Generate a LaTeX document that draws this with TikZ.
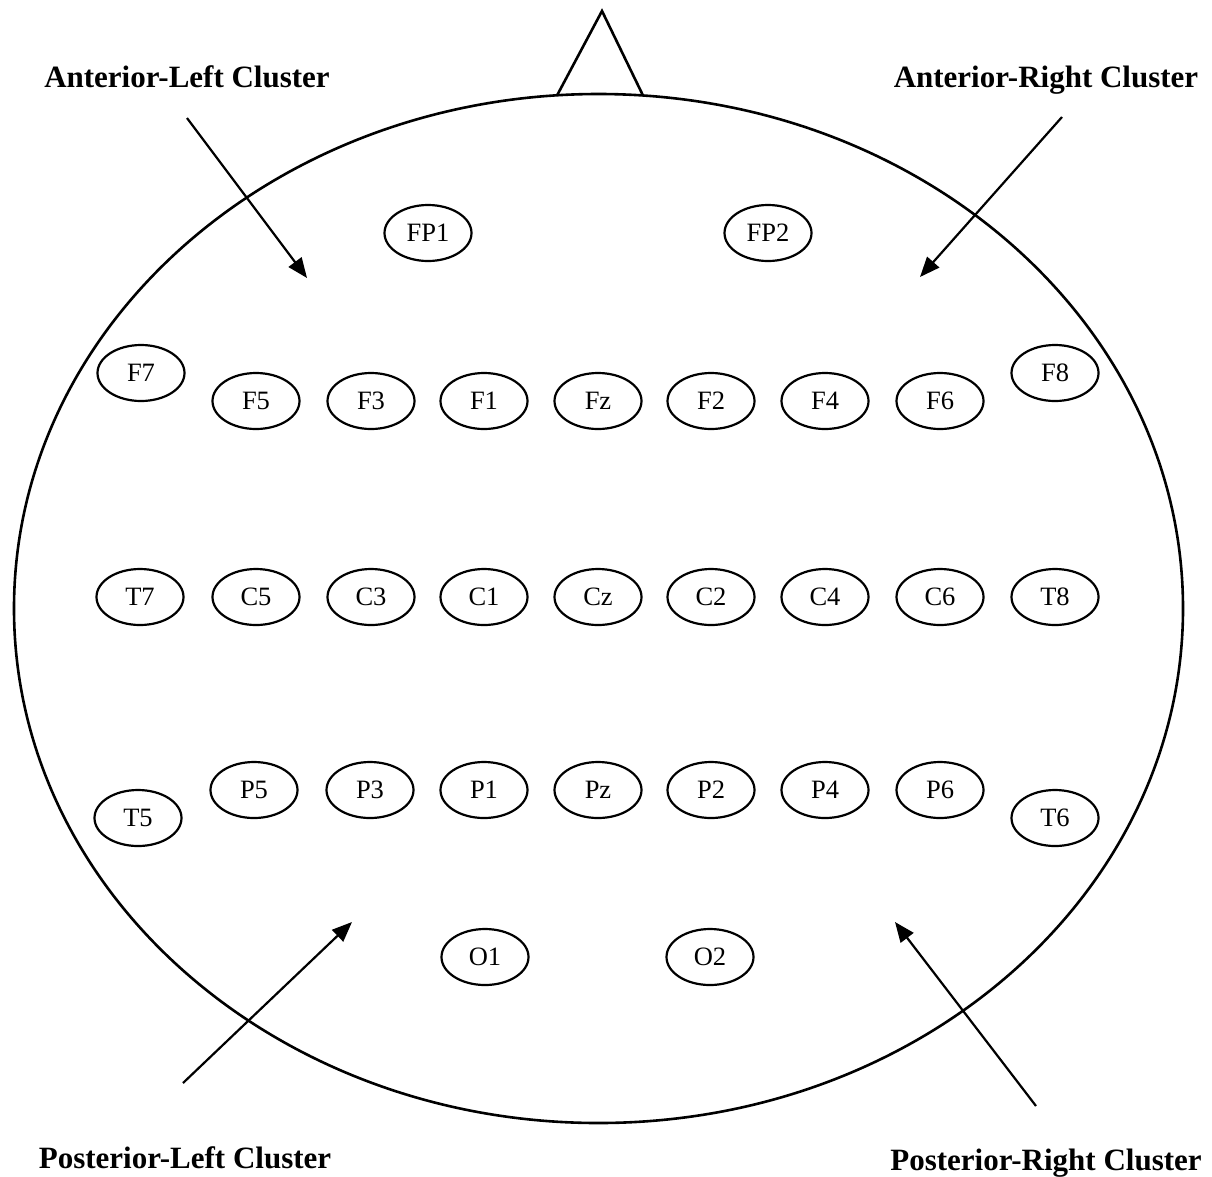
\documentclass[tikz,border=0pt]{standalone}
\usepackage{fontspec}
\setmainfont{Liberation Serif}
\usetikzlibrary{shapes.geometric,arrows.meta}
\begin{document}
\begin{tikzpicture}[x=1pt,y=-1pt,
  electrode/.style={draw, line width=2.2pt, ellipse, inner sep=0pt,
    minimum width=87pt, minimum height=56pt, font=\fontsize{26.5}{28}\selectfont},
  clusterlabel/.style={font=\fontsize{31}{34}\selectfont\bfseries, inner sep=0pt, anchor=base},
  pointer/.style={line width=2.2pt, -{Triangle[length=20pt,width=16pt]}},
  headline/.style={line width=2.6pt}]
\useasboundingbox (0,0) rectangle (1212,1176);
% head and nose
\draw[headline] (598.5,608.5) ellipse [x radius=584.5, y radius=514.5];
\draw[headline, line join=miter] (557,95.5) -- (602,11) -- (643,95.5);
% electrodes
\node[electrode] (FP1) at (428,233) {FP1};
\node[electrode] (FP2) at (768,233) {FP2};
\node[electrode] (F7) at (141,373) {F7};
\node[electrode] (F8) at (1055,373) {F8};
\node[electrode] (F5) at (256,401) {F5};
\node[electrode] (F3) at (371,401) {F3};
\node[electrode] (F1) at (484,401) {F1};
\node[electrode] (Fz) at (598,401) {Fz};
\node[electrode] (F2) at (711,401) {F2};
\node[electrode] (F4) at (825,401) {F4};
\node[electrode] (F6) at (940,401) {F6};
\node[electrode] (T7) at (140,597) {T7};
\node[electrode] (C5) at (256,597) {C5};
\node[electrode] (C3) at (371,597) {C3};
\node[electrode] (C1) at (484,597) {C1};
\node[electrode] (Cz) at (598,597) {Cz};
\node[electrode] (C2) at (711,597) {C2};
\node[electrode] (C4) at (825,597) {C4};
\node[electrode] (C6) at (940,597) {C6};
\node[electrode] (T8) at (1055,597) {T8};
\node[electrode] (P5) at (254,790) {P5};
\node[electrode] (P3) at (370,790) {P3};
\node[electrode] (P1) at (484,790) {P1};
\node[electrode] (Pz) at (598,790) {Pz};
\node[electrode] (P2) at (711,790) {P2};
\node[electrode] (P4) at (825,790) {P4};
\node[electrode] (P6) at (940,790) {P6};
\node[electrode] (T5) at (138,818) {T5};
\node[electrode] (T6) at (1055,818) {T6};
\node[electrode] (O1) at (485,957) {O1};
\node[electrode] (O2) at (710,957) {O2};
% cluster labels
\node[clusterlabel] (AL) at (187,87) {Anterior-Left Cluster};
\node[clusterlabel] (AR) at (1046,87) {Anterior-Right Cluster};
\node[clusterlabel] (PL) at (185,1168) {Posterior-Left Cluster};
\node[clusterlabel] (PR) at (1046,1170) {Posterior-Right Cluster};
% pointer ends
\coordinate (ALs) at (187,118);
\coordinate (ALt) at (307,278);
\coordinate (ARs) at (1062,117);
\coordinate (ARt) at (920,277);
\coordinate (PLs) at (183,1083);
\coordinate (PLt) at (352,922);
\coordinate (PRs) at (1036,1106);
\coordinate (PRt) at (895,922);
\draw[pointer] (ALs) -- (ALt);
\draw[pointer] (ARs) -- (ARt);
\draw[pointer] (PLs) -- (PLt);
\draw[pointer] (PRs) -- (PRt);
\end{tikzpicture}
\end{document}
